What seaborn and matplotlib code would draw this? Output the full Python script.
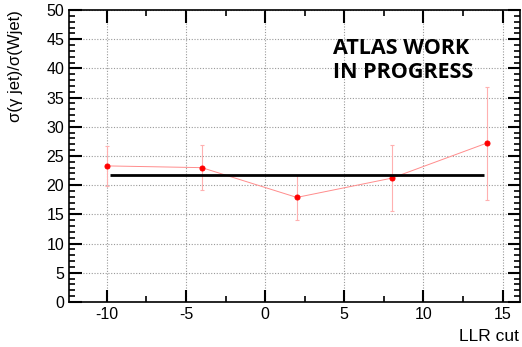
import numpy as np
import pandas as pd
import matplotlib
matplotlib.use("Agg")
import matplotlib.pyplot as plt
import seaborn as sns
from matplotlib.ticker import MultipleLocator

# measured ratio vs LLR cut
llr_cut = [-10, -4, 2, 8, 14]
ratio = [23.3, 23.0, 17.9, 21.2, 27.2]
ratio_err = [3.4, 3.8, 3.9, 5.6, 9.7]

# constant fit
fit_value = 21.8
fit_range = [-9.8, 13.8]

sns.set_style("ticks", {"axes.edgecolor": "black", "text.color": "black",
                        "xtick.color": "black", "ytick.color": "black",
                        "axes.labelcolor": "black"})
plt.rcParams["font.family"] = ["Liberation Sans", "DejaVu Sans"]
plt.rcParams["axes.unicode_minus"] = False

df = pd.DataFrame({"llr": llr_cut, "ratio": ratio})

fig = plt.figure(figsize=(5.22, 3.47), dpi=100)
ax = fig.add_axes([0.132, 0.130, 0.864, 0.841])

ax.errorbar(llr_cut, ratio, yerr=ratio_err, fmt="none", ecolor="#ffb0b0",
            elinewidth=0.8, capsize=1.5, capthick=0.8, zorder=2)
sns.lineplot(data=df, x="llr", y="ratio", ax=ax, color="#ff8c8c", lw=0.7,
             marker="o", markersize=3.6, markerfacecolor="red",
             markeredgecolor="red", zorder=3)
ax.hlines(fit_value, fit_range[0], fit_range[1], color="black", lw=2, zorder=4)

ax.set_xlim(-12.4, 16.1)
ax.set_ylim(0, 50)
ax.xaxis.set_major_locator(MultipleLocator(5))
ax.xaxis.set_minor_locator(MultipleLocator(2.5))
ax.yaxis.set_major_locator(MultipleLocator(5))
ax.yaxis.set_minor_locator(MultipleLocator(1))
ax.grid(True, which="major", ls=(0, (1, 1.5)), color="#999999", lw=0.8)
ax.tick_params(which="both", direction="in", top=True, right=True,
               labelsize=11.5, color="black", labelcolor="black")
ax.tick_params(which="major", length=9, width=1.5)
ax.tick_params(which="minor", length=4.5, width=1.2)
for s in ax.spines.values():
    s.set_linewidth(1.2)
    s.set_color("black")

ax.set_xlabel("")
ax.set_ylabel("")
fig.text(0.03, 0.97, "σ(γ jet)/σ(Wjet)", rotation=90, ha="center", va="top",
         fontsize=12, color="black")
fig.text(0.994, 0.01, "LLR cut", ha="right", va="bottom", fontsize=12.5,
         color="black")

ax.text(0.585, 0.905, "ATLAS WORK\nIN PROGRESS", transform=ax.transAxes,
        ha="left", va="top", fontsize=15.5, fontweight="bold",
        family="Open Sans", linespacing=1.22, color="black")

fig.savefig("out.png", dpi=100)
